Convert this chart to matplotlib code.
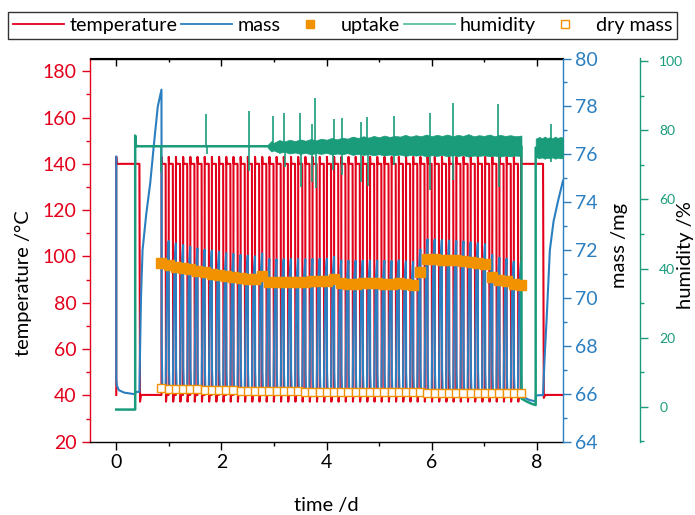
import numpy as np
import matplotlib
matplotlib.use('Agg')
import matplotlib.pyplot as plt
from matplotlib.lines import Line2D

plt.rcParams['font.family'] = ['Lato', 'DejaVu Sans']

C_TEMP = '#e3001b'
C_MASS = '#2b7fc0'
C_HUM = '#1a9c7b'
C_ORANGE = '#f39200'

# heating of cycle i starts at T_FIRST + i*PERIOD (time /d)
T_FIRST = 0.86
PERIOD = 0.1368
N_CYCLES = 50

# run-in before the cycling
temp_start_t = [0.0, 0.0, 0.006, 0.44, 0.452, 0.47]
temp_start_v = [40.2, 143.0, 140.0, 140.0, 37.3, 40.2]
mass_start_t = [0.0, 0.0, 0.01, 0.05, 0.15, 0.30, 0.36, 0.365, 0.44, 0.45, 0.47,
                0.50, 0.57, 0.646, 0.72, 0.79]
mass_start_v = [75.9, 66.6, 66.35, 66.15, 66.05, 66.0, 65.98, 66.08, 66.08, 67.5, 70.0,
                72.0, 73.5, 74.8, 76.5, 78.0]
mass_first_peak = 78.7

# one value per heating step (51) / per cooling step (50)
uptake = [71.48, 71.38, 71.31, 71.26, 71.20, 71.13, 71.07, 71.02, 70.97, 70.91,
          70.88, 70.84, 70.81, 70.78, 70.91, 70.68, 70.67, 70.67, 70.68, 70.68,
          70.68, 70.69, 70.69, 70.70, 70.78, 70.62, 70.60, 70.60, 70.61, 70.62,
          70.62, 70.60, 70.59, 70.62, 70.58, 70.56, 71.09, 71.62, 71.62, 71.60,
          71.58, 71.57, 71.55, 71.52, 71.48, 71.44, 70.88, 70.76, 70.72, 70.60,
          70.55]
dry_mass = [66.23, 66.22, 66.21, 66.20, 66.19, 66.18, 66.17, 66.16, 66.15, 66.15,
            66.14, 66.13, 66.13, 66.12, 66.12, 66.11, 66.11, 66.10, 66.10, 66.10,
            66.09, 66.09, 66.09, 66.09, 66.08, 66.08, 66.08, 66.08, 66.07, 66.07,
            66.07, 66.07, 66.06, 66.06, 66.06, 66.06, 66.06, 66.05, 66.05, 66.05,
            66.05, 66.04, 66.04, 66.04, 66.04, 66.03, 66.03, 66.03, 66.03, 66.02,
            66.02]
mass_peak = [72.38, 72.28, 72.21, 72.14, 72.07, 72.02, 71.98, 71.93, 71.87, 71.84,
             71.80, 71.77, 71.74, 71.86, 71.63, 71.62, 71.62, 71.63, 71.63, 71.62,
             71.63, 71.64, 71.64, 71.72, 71.57, 71.55, 71.55, 71.56, 71.57, 71.56,
             71.55, 71.54, 71.57, 71.53, 71.51, 72.02, 72.45, 72.44, 72.42, 72.40,
             72.38, 72.36, 72.33, 72.29, 72.25, 71.80, 71.68, 71.64, 71.52, 71.47]

# shape of one cycle (fraction of the period)
temp_phase = [0.0, 0.015, 0.05, 0.58, 0.63, 0.70]
temp_level = [40.2, 143.0, 140.0, 140.0, 37.3, 40.2]
mass_phase = [0.0, 0.03, 0.12, 0.58, 0.64, 0.80]
mass_frac = [1.0, 0.15, 0.0, 0.0, 0.25, 0.85]

# after the cycling: held hot, then cooled again
temp_end_t = [8.12, 8.135, 8.16, 8.5]
temp_end_v = [140.0, 38.9, 40.2, 40.2]
mass_end_t = [7.85, 7.98, 7.985, 8.12, 8.15, 8.19, 8.25, 8.32, 8.40, 8.5]
mass_end_v = [65.75, 65.68, 65.93, 65.95, 67.5, 69.2, 72.0, 73.2, 74.0, 74.9]

# humidity
hum_t = [0.0, 0.36, 0.36, 0.372, 0.39, 7.71, 7.71, 7.80, 7.90, 7.98, 7.98, 8.5]
hum_v = [-0.8, -0.8, 78.5, 75.8, 75.4, 75.4, 2.4, 1.6, 0.9, 0.5, 75.0, 75.0]
band_t = [2.88, 2.95, 3.0, 3.1, 3.2, 3.3, 3.4, 3.5, 3.6, 3.7, 3.8, 3.9, 4.0, 4.1, 4.2,
          4.3, 4.4, 4.5, 4.6, 4.7, 4.8, 4.9, 5.0, 5.1, 5.2, 5.3, 5.4, 5.5, 5.6, 5.7,
          5.8, 5.9, 6.0, 6.1, 6.2, 6.3, 6.4, 6.5, 6.6, 6.7, 6.8, 6.9, 7.0, 7.1, 7.2,
          7.3, 7.4, 7.5, 7.6, 7.71]
band_hi = [75.8, 76.9, 76.4, 77.2, 76.8, 77.3, 76.9, 77.4, 77.0, 77.5, 77.1, 77.6, 77.3,
           77.8, 77.4, 77.9, 77.6, 78.2, 77.8, 78.3, 77.9, 78.4, 78.0, 78.5, 78.1, 78.4,
           78.2, 78.7, 78.2, 78.6, 78.3, 78.8, 78.3, 78.7, 78.4, 78.8, 78.3, 78.7, 78.4,
           78.9, 78.3, 78.6, 78.4, 78.8, 78.3, 78.7, 78.4, 78.6, 78.3, 78.5]
band_lo = [75.0, 73.9, 74.2, 73.5, 73.8, 73.3, 73.6, 73.2, 73.5, 73.1, 73.4, 73.2, 73.5,
           73.0, 73.3, 73.1, 73.4, 72.9, 73.2, 72.9, 73.1, 72.8, 73.1, 72.7, 73.0, 72.8,
           73.0, 72.6, 72.9, 72.7, 72.9, 72.5, 72.8, 72.6, 72.9, 72.5, 72.8, 72.6, 72.8,
           72.4, 72.7, 72.6, 72.8, 72.5, 72.7, 72.4, 72.7, 72.5, 72.7, 72.6]
band2_t = [7.98, 8.05, 8.1, 8.15, 8.2, 8.25, 8.3, 8.35, 8.4, 8.45, 8.5]
band2_hi = [77.6, 78.1, 77.7, 78.2, 77.8, 78.0, 77.7, 78.2, 77.8, 78.1, 77.9]
band2_lo = [72.3, 71.9, 72.2, 71.8, 72.1, 71.9, 72.2, 71.8, 72.1, 71.9, 72.0]
spike_up_t = [1.70, 2.52, 2.98, 3.19, 3.50, 3.72, 3.78, 4.14, 4.29, 4.65, 4.78, 5.28, 5.96, 6.41, 7.27, 8.28]
spike_up_v = [84.8, 85.7, 84.3, 85.0, 85.0, 81.9, 89.5, 83.3, 83.5, 82.4, 84.0, 84.3, 85.1, 88.0, 87.7, 81.7]
spike_dn_t = [0.85, 1.72, 2.53, 3.21, 3.51, 3.72, 3.80, 4.13, 4.30, 4.66, 4.79, 5.29, 5.97, 6.41, 7.28, 8.28]
spike_dn_v = [67.9, 73.2, 68.2, 69.4, 63.6, 65.1, 63.2, 68.5, 67.0, 65.1, 63.9, 69.9, 62.6, 65.6, 63.6, 70.9]

# assemble the cycling curves
t_heat = T_FIRST + PERIOD * np.arange(N_CYCLES + 1)
tt, tv = list(temp_start_t), list(temp_start_v)
mt, mv = list(mass_start_t), list(mass_start_v)
prev_peak = mass_first_peak
for i in range(N_CYCLES):
    t0 = t_heat[i]
    tt += [t0 + p * PERIOD for p in temp_phase]
    tv += temp_level
    d = dry_mass[i]
    for p, f in zip(mass_phase, mass_frac):
        top = prev_peak if p < 0.5 else mass_peak[i]
        mt.append(t0 + p * PERIOD)
        mv.append(d + f * (top - d))
    prev_peak = mass_peak[i]
t_last = t_heat[-1]
tt += [t_last, t_last + 0.002, t_last + 0.007] + temp_end_t
tv += [40.2, 143.0, 140.0] + temp_end_v
mt += [t_last, t_last + 0.004, t_last + 0.016] + mass_end_t
mv += [prev_peak, dry_mass[-1] + 0.15 * (prev_peak - dry_mass[-1]), 65.9] + mass_end_v

fig = plt.figure(figsize=(6.95, 5.15), dpi=100)
ax = fig.add_axes([90 / 695, 73.3 / 515, 473 / 695, 383.2 / 515])
ax2 = ax.twinx()
ax3 = ax.twinx()
ax4 = ax.twinx()

ax.plot(tt, tv, color=C_TEMP, lw=1.5)
ax2.plot(mt, mv, color=C_MASS, lw=1.5)
ax3.plot(hum_t, hum_v, color=C_HUM, lw=1.8)
ax3.fill_between(band_t, band_lo, band_hi, color=C_HUM, lw=0.5)
ax3.fill_between(band2_t, band2_lo, band2_hi, color=C_HUM, lw=0.5)
ax3.vlines(spike_up_t, 75.4, spike_up_v, color=C_HUM, lw=1.2)
ax3.vlines(spike_dn_t, 75.4, spike_dn_v, color=C_HUM, lw=1.2)
ax4.plot(t_heat, uptake, 's', color=C_ORANGE, ms=7, mec=C_ORANGE)
ax4.plot(t_heat, dry_mass, 's', mfc='white', mec=C_ORANGE, ms=6, mew=1.0)

ax.set_xlim(-0.5, 8.5)
ax.set_ylim(20, 185.5)
ax2.set_ylim(64, 80)
ax3.set_ylim(-10.1, 100.8)
ax4.set_ylim(64, 80)
ax4.axis('off')

# axis styling
for s in ['top', 'bottom', 'left']:
    ax2.spines[s].set_visible(False)
    ax3.spines[s].set_visible(False)
ax.spines['right'].set_visible(False)
ax.spines['left'].set_color(C_TEMP)
ax2.spines['right'].set_color(C_MASS)
ax3.spines['right'].set_color(C_HUM)
ax3.spines['right'].set_position(('axes', 550 / 473))
for a in (ax, ax2, ax3):
    for s in a.spines.values():
        s.set_linewidth(1.0)

ax.set_xticks([0, 2, 4, 6, 8])
ax.set_xticks([1, 3, 5, 7], minor=True)
ax.tick_params(axis='x', which='major', length=5.8, width=1, labelsize=14, pad=3)
ax.tick_params(axis='x', which='minor', length=3, width=1)
top = ax.secondary_xaxis('top')
top.set_xticks([0, 2, 4, 6, 8])
top.set_xticks([1, 3, 5, 7], minor=True)
top.tick_params(which='both', direction='in', labeltop=False, width=1)
top.tick_params(which='major', length=5.8)
top.tick_params(which='minor', length=3)

ax.set_yticks(range(20, 181, 20))
ax.set_yticks(range(30, 181, 20), minor=True)
ax.tick_params(axis='y', which='both', colors=C_TEMP, width=1)
ax.tick_params(axis='y', which='major', length=5.8, labelsize=14, pad=4)
ax.tick_params(axis='y', which='minor', length=3)

ax2.set_yticks(range(64, 81, 2))
ax2.set_yticks(range(65, 80, 2), minor=True)
ax2.tick_params(axis='y', which='both', colors=C_MASS, width=1)
ax2.tick_params(axis='y', which='major', length=5.8, labelsize=14, pad=3)
ax2.tick_params(axis='y', which='minor', length=3)

ax3.set_yticks(range(0, 101, 20))
ax3.set_yticks(range(-10, 100, 20), minor=True)
ax3.tick_params(axis='y', which='both', colors=C_HUM, width=1)
ax3.tick_params(axis='y', which='major', length=5.8, labelsize=10, pad=8)
ax3.tick_params(axis='y', which='minor', length=3)

fig.text(23 / 695, 1 - 283 / 515, 'temperature /°C', rotation=90, ha='center', va='center', fontsize=14.5)
fig.text(620 / 695, 1 - 245 / 515, 'mass /mg', rotation=90, ha='center', va='center', fontsize=14.5)
fig.text(686 / 695, 1 - 255 / 515, 'humidity /%', rotation=90, ha='center', va='center', fontsize=14.5)
fig.text(326.5 / 695, 1 - 505 / 515, 'time /d', ha='center', va='center', fontsize=14.5)

handles = [
    Line2D([], [], color=C_TEMP, lw=1.3),
    Line2D([], [], color=C_MASS, lw=1.3),
    Line2D([], [], ls='none', marker='s', color=C_ORANGE, ms=6),
    Line2D([], [], color='#5cbfa0', lw=1.3),
    Line2D([], [], ls='none', marker='s', mfc='white', mec=C_ORANGE, ms=5.6, mew=1.0),
]
labels = ['temperature', 'mass', 'uptake', 'humidity', 'dry mass']
leg = fig.legend(handles, labels, loc='upper left', bbox_to_anchor=(8 / 695, 1 - 12 / 515),
                 ncol=5, fontsize=14.2, frameon=True, fancybox=False, edgecolor='black',
                 handlelength=2.6, handletextpad=0.25, columnspacing=0.2,
                 borderpad=0.25, borderaxespad=0)
leg.get_frame().set_linewidth(1.0)

fig.savefig('out.png', dpi=100)
